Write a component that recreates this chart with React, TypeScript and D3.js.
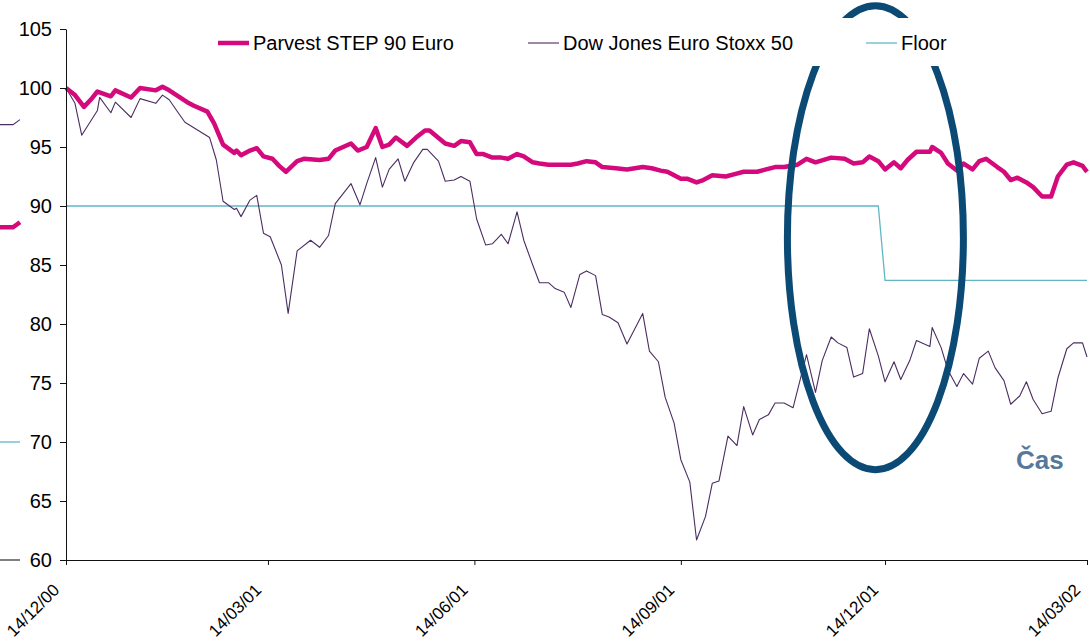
import React, { useEffect, useRef } from "react";
import * as d3 from "d3";

// chart size (the whole picture)
const width = 1090;
const height = 644;

// plot area edges
const margin = { top: 29, right: 3, bottom: 84, left: 66 };

// dates on the x axis
const startDate = "2000-12-14";
const endDate = "2002-03-14";
const tickDates = ["2000-12-14", "2001-03-14", "2001-06-14", "2001-09-14", "2001-12-14", "2002-03-14"];
const yTicks = [60, 65, 70, 75, 80, 85, 90, 95, 100, 105];

// series names
const seriesNames = ["Parvest STEP 90 Euro", "Dow Jones Euro Stoxx 50", "Floor"];

// Parvest STEP 90 Euro, days since 14/12/00
const parvestDays = [0, 4, 8, 11, 14, 20, 22, 29, 33, 40, 43, 46, 54, 57, 63, 66, 70, 75, 76, 78, 82, 85, 88, 92, 95, 98, 103, 106, 113, 117, 120, 127, 130, 134, 138, 141, 144, 147, 152, 156, 160, 162, 169, 173, 176, 180, 183, 186, 190, 194, 197, 201, 204, 208, 211, 215, 225, 228, 232, 236, 239, 245, 250, 257, 261, 265, 268, 274, 277, 281, 284, 288, 294, 298, 302, 308, 312, 316, 320, 326, 330, 334, 341, 347, 351, 355, 358, 362, 365, 369, 372, 375, 379, 383, 385, 386, 390, 393, 397, 400, 404, 407, 410, 415, 418, 421, 424, 428, 431, 435, 439, 442, 446, 449, 453, 455];
const parvestValues = [100.0, 99.4, 98.4, 99.0, 99.7, 99.3, 99.8, 99.2, 100.0, 99.8, 100.1, 99.8, 98.8, 98.5, 98.0, 97.0, 95.2, 94.5, 94.7, 94.3, 94.7, 94.9, 94.2, 94.0, 93.4, 92.9, 93.8, 94.0, 93.9, 94.0, 94.7, 95.3, 94.7, 95.0, 96.6, 95.0, 95.2, 95.8, 95.1, 95.8, 96.4, 96.4, 95.3, 95.1, 95.5, 95.4, 94.4, 94.4, 94.1, 94.1, 94.0, 94.4, 94.2, 93.7, 93.6, 93.5, 93.5, 93.6, 93.8, 93.7, 93.3, 93.2, 93.1, 93.3, 93.2, 93.0, 92.9, 92.3, 92.3, 92.0, 92.2, 92.6, 92.5, 92.7, 92.9, 92.9, 93.1, 93.3, 93.3, 93.5, 94.0, 93.7, 94.1, 94.0, 93.6, 93.7, 94.2, 93.8, 93.1, 93.7, 93.2, 93.9, 94.6, 94.6, 94.6, 95.0, 94.5, 93.6, 93.0, 93.6, 93.1, 93.8, 94.0, 93.3, 92.9, 92.2, 92.4, 92.0, 91.6, 90.8, 90.8, 92.5, 93.5, 93.7, 93.4, 92.9];

// Dow Jones Euro Stoxx 50, days since 14/12/00
const stoxxDays = [0, 4, 7, 14, 15, 20, 22, 29, 33, 40, 43, 46, 50, 53, 64, 67, 70, 75, 76, 78, 82, 85, 88, 91, 96, 99, 103, 109, 113, 117, 120, 127, 131, 134, 138, 141, 144, 148, 151, 155, 159, 161, 166, 169, 173, 176, 180, 183, 187, 190, 194, 197, 201, 204, 208, 211, 215, 218, 222, 225, 229, 232, 236, 239, 242, 246, 250, 257, 260, 264, 267, 271, 274, 278, 281, 285, 288, 291, 295, 299, 302, 306, 309, 313, 316, 320, 324, 330, 334, 337, 341, 344, 348, 351, 355, 358, 362, 365, 369, 372, 376, 379, 385, 386, 390, 393, 397, 400, 404, 407, 411, 414, 418, 421, 425, 428, 431, 435, 439, 442, 446, 449, 453, 455];
const stoxxValues = [100.0, 98.7, 96.0, 98.1, 99.2, 97.9, 98.8, 97.5, 99.1, 98.7, 99.4, 99.0, 97.9, 97.1, 95.8, 93.9, 90.4, 89.7, 89.8, 89.1, 90.5, 90.9, 87.7, 87.4, 85.0, 80.9, 86.2, 87.1, 86.5, 87.5, 90.2, 91.9, 90.1, 91.9, 94.1, 91.6, 93.1, 94.0, 92.1, 93.7, 94.8, 94.8, 93.8, 92.1, 92.2, 92.5, 92.1, 88.9, 86.7, 86.8, 87.6, 86.8, 89.5, 87.1, 85.0, 83.5, 83.5, 83.0, 82.7, 81.4, 84.2, 84.5, 84.1, 80.8, 80.6, 80.1, 78.3, 80.9, 77.7, 76.8, 73.8, 71.6, 68.5, 66.6, 61.7, 63.7, 66.5, 66.7, 70.5, 69.7, 73.0, 70.6, 71.9, 72.3, 73.3, 73.3, 72.9, 77.4, 74.2, 76.9, 78.9, 78.4, 78.0, 75.5, 75.8, 79.6, 77.3, 75.1, 76.8, 75.3, 76.9, 78.6, 78.1, 79.7, 78.0, 76.1, 74.7, 75.8, 74.9, 77.1, 77.7, 76.3, 75.2, 73.2, 73.9, 75.1, 73.6, 72.4, 72.6, 75.4, 77.9, 78.4, 78.4, 77.2];

// Floor
const floorDays = [0, 362, 365, 455];
const floorValues = [90, 90, 83.7, 83.7];

// bits of an older legend peeking in at the left edge
const stubValues = [96.9, 88.2, 70, 60];

const colors = {
    parvest: "#d40a7c",
    stoxx: "#4b2d62",
    floor: "#62b6c4",
    ring: "#0b4a74",
    note: "#58789a",
};

const font = "'Liberation Sans', Arial, sans-serif";

const drawChart = (svgEl) => {
    const svg = d3.select(svgEl);
    svg.selectAll("*").remove();

    const start = new Date(startDate);
    const x = d3.scaleUtc()
        .domain([start, new Date(endDate)])
        .range([margin.left, width - margin.right]);
    const y = d3.scaleLinear()
        .domain([60, 105])
        .range([height - margin.bottom, margin.top]);

    const toPoints = (days, values) => days.map((d, i) => [d3.utcDay.offset(start, d), values[i]]);

    const line = d3.line()
        .x(d => x(d[0]))
        .y(d => y(d[1]));

    // lines
    svg.append("path")
        .attr("d", line(toPoints(floorDays, floorValues)))
        .attr("fill", "none")
        .attr("stroke", colors.floor)
        .attr("stroke-width", 1.3);

    svg.append("path")
        .attr("d", line(toPoints(stoxxDays, stoxxValues)))
        .attr("fill", "none")
        .attr("stroke", colors.stoxx)
        .attr("stroke-width", 1.1)
        .attr("stroke-linejoin", "round");

    svg.append("path")
        .attr("d", line(toPoints(parvestDays, parvestValues)))
        .attr("fill", "none")
        .attr("stroke", colors.parvest)
        .attr("stroke-width", 4.5)
        .attr("stroke-linejoin", "round");

    // axes
    const yAxis = svg.append("g")
        .attr("transform", `translate(${margin.left},0)`)
        .call(d3.axisLeft(y).tickValues(yTicks).tickSize(6).tickSizeOuter(0).tickPadding(8));
    yAxis.selectAll("text")
        .attr("font-family", font)
        .attr("font-size", 20)
        .attr("fill", "#000");

    const xAxis = svg.append("g")
        .attr("transform", `translate(0,${height - margin.bottom})`)
        .call(d3.axisBottom(x)
            .tickValues(tickDates.map(d => new Date(d)))
            .tickFormat(d3.utcFormat("%d/%m/%y"))
            .tickSize(5)
            .tickSizeOuter(0));
    xAxis.selectAll("text")
        .attr("font-family", font)
        .attr("font-size", 17)
        .attr("fill", "#000")
        .attr("text-anchor", "end")
        .attr("x", 0)
        .attr("y", 0)
        .attr("dy", 0)
        .attr("transform", "translate(-6,31) rotate(-45)");

    svg.selectAll(".domain, .tick line").attr("stroke", "#111");

    // the ring round the last months
    svg.append("ellipse")
        .attr("cx", 875.4)
        .attr("cy", 237.7)
        .attr("rx", 88)
        .attr("ry", 232)
        .attr("fill", "none")
        .attr("stroke", colors.ring)
        .attr("stroke-width", 7);

    // legend
    const legend = svg.append("g");
    legend.append("rect")
        .attr("x", 205).attr("y", 18)
        .attr("width", 750).attr("height", 48)
        .attr("fill", "#fff");
    const items = [
        { name: seriesNames[0], color: colors.parvest, w: 4.5, x: 218 },
        { name: seriesNames[1], color: colors.stoxx, w: 1.1, x: 528 },
        { name: seriesNames[2], color: colors.floor, w: 1.3, x: 866 },
    ];
    items.forEach(it => {
        legend.append("line")
            .attr("x1", it.x).attr("x2", it.x + 31)
            .attr("y1", 43).attr("y2", 43)
            .attr("stroke", it.color)
            .attr("stroke-width", it.w);
        legend.append("text")
            .attr("x", it.x + 35).attr("y", 50)
            .attr("font-family", font)
            .attr("font-size", 20)
            .attr("fill", "#000")
            .text(it.name);
    });

    // label
    svg.append("text")
        .attr("x", 1016).attr("y", 469)
        .attr("font-family", font)
        .attr("font-size", 26)
        .attr("font-weight", "bold")
        .attr("fill", colors.note)
        .text("Čas");

    // stubs at the left edge
    const stubColors = [colors.stoxx, colors.parvest, colors.floor, "#555"];
    const stubWidths = [1.1, 4.5, 1.3, 1.5];
    stubValues.forEach((v, i) => {
        const yy = y(v);
        const bend = i < 2 ? -5 : 0;
        svg.append("path")
            .attr("d", `M0,${yy}H13L20,${yy + bend}`)
            .attr("fill", "none")
            .attr("stroke", stubColors[i])
            .attr("stroke-width", stubWidths[i]);
    });
};

export default function App() {
    const ref = useRef(null);

    useEffect(() => {
        drawChart(ref.current);
    }, []);

    return (
        <svg
            ref={ref}
            width={width}
            height={height}
            style={{ position: "absolute", left: 0, top: 0, background: "#fff" }}
        />
    );
}
